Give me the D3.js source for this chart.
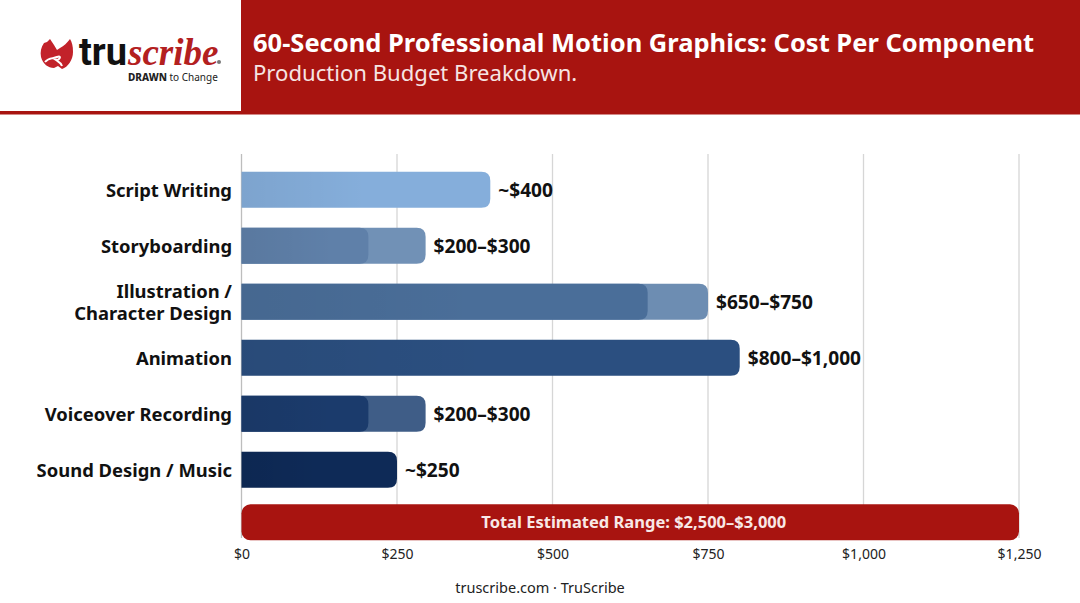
<!DOCTYPE html>
<html>
<head>
<meta charset="utf-8">
<script src="https://cdnjs.cloudflare.com/ajax/libs/d3/7.8.5/d3.min.js"></script>
<style>
  html, body { margin: 0; padding: 0; background: #fff; }
  svg { display: block; font-family: "Noto Sans", sans-serif; }
</style>
</head>
<body>
<svg id="chart" width="1080" height="603"></svg>
<script>
const categories = ["Script Writing", "Storyboarding", "Illustration /|Character Design", "Animation", "Voiceover Recording", "Sound Design / Music"];
const lowValues = [null, 204, 653, null, 204, null];
const highValues = [400, 296, 750, 801, 296, 250];
const valueLabels = ["~$400", "$200–$300", "$650–$750", "$800–$1,000", "$200–$300", "~$250"];
const lowColors = [null, "#5f80a9", "#4a6e99", null, "#1b3b6c", null];
const highColors = ["#85aedb", "#7191b6", "#6d8db2", "#2b4f80", "#3f5d87", "#0e2a57"];
const totalLabel = "Total Estimated Range: $2,500–$3,000";
const totalValue = 1250;
const xTicks = [0, 250, 500, 750, 1000, 1250];

const RED = "#a81410";
const svg = d3.select("#chart");

const x = d3.scaleLinear().domain([0, 1250]).range([241.5, 1019]);
const y = d3.scaleBand()
  .domain(categories)
  .range([161.7, 497.7])
  .paddingInner(0.357)
  .paddingOuter(0.1785);
const totalY = 504.3;

// slight shading on the left of every bar
const shade = svg.append("defs").append("linearGradient").attr("id", "shade");
shade.append("stop").attr("offset", 0).attr("stop-color", "#000").attr("stop-opacity", 0.06);
shade.append("stop").attr("offset", 0.5).attr("stop-color", "#000").attr("stop-opacity", 0);

// square on the left, rounded on the right
function barPath(x0, x1, top, h, r) {
  return `M${x0},${top}H${x1 - r}Q${x1},${top} ${x1},${top + r}V${top + h - r}Q${x1},${top + h} ${x1 - r},${top + h}H${x0}Z`;
}

// header
svg.append("rect").attr("width", 1080).attr("height", 114.5).attr("fill", RED);
svg.append("rect").attr("width", 241).attr("height", 111).attr("fill", "#fff");
svg.append("text").attr("x", 253).attr("y", 52)
  .attr("fill", "#fff").attr("font-size", 25.5).attr("font-weight", 700)
  .text("60-Second Professional Motion Graphics: Cost Per Component");
svg.append("text").attr("x", 253).attr("y", 81)
  .attr("fill", "#f6e4e3").attr("font-size", 22.1)
  .text("Production Budget Breakdown.");

// logo
const logo = svg.append("g");
logo.append("path")
  .attr("fill", "#c2222a")
  .attr("d", "M50,39L47,42L44,43C41,47 40,52 41,57C43,64 48,68 54,68L58,66L62,69C68,67 73,60 73,52C73,46 72,42 70,39C67,43 64,46 60,48L57,50L54,45Z");
logo.append("path")
  .attr("fill", "none").attr("stroke", "#fff").attr("stroke-width", 2)
  .attr("d", "M45,62C49,57 53,59 57,57C62,55 60,60 56,60C59,62 61,63 62,66");
logo.append("text").attr("x", 79).attr("y", 65)
  .attr("font-family", "Roboto, sans-serif")
  .attr("font-size", 38).attr("font-weight", 700).attr("fill", "#111")
  .text("tru");
logo.append("text").attr("x", 128).attr("y", 65)
  .attr("font-family", "'Liberation Serif', serif").attr("font-style", "italic")
  .attr("font-size", 37).attr("font-weight", 700).attr("fill", "#b3201f")
  .text("scribe");
logo.append("circle").attr("cx", 219).attr("cy", 62).attr("r", 2).attr("fill", "#777");
const tagline = logo.append("text").attr("x", 128).attr("y", 81).attr("font-size", 10).attr("fill", "#222");
tagline.append("tspan").attr("font-weight", 800).text("DRAWN");
tagline.append("tspan").text(" to Change");

// grid
svg.append("g").selectAll("line").data(xTicks).join("line")
  .attr("x1", d => x(d)).attr("x2", d => x(d))
  .attr("y1", 154).attr("y2", 538)
  .attr("stroke", d => d === 0 ? "#bdbdbd" : "#d6d6d6")
  .attr("stroke-width", 1.3);

// bars
const rows = categories.map((c, i) => ({ c, i }));
const bars = svg.append("g");
bars.selectAll(".high").data(rows).join("path")
  .attr("class", "high")
  .attr("fill", d => highColors[d.i])
  .attr("d", d => barPath(x(0), x(highValues[d.i]), y(d.c), y.bandwidth(), 9));
bars.selectAll(".low").data(rows.filter(d => lowValues[d.i] !== null)).join("path")
  .attr("class", "low")
  .attr("fill", d => lowColors[d.i])
  .attr("d", d => barPath(x(0), x(lowValues[d.i]), y(d.c), y.bandwidth(), 9));
bars.selectAll(".shade").data(rows).join("path")
  .attr("class", "shade")
  .attr("fill", "url(#shade)")
  .attr("d", d => barPath(x(0), x(highValues[d.i]), y(d.c), y.bandwidth(), 9));

// total bar
svg.append("rect")
  .attr("x", x(0)).attr("width", x(totalValue) - x(0))
  .attr("y", totalY).attr("height", y.bandwidth())
  .attr("rx", 9).attr("fill", RED);
svg.append("text")
  .attr("x", (x(0) + x(totalValue)) / 2 + 3.5).attr("y", totalY + y.bandwidth() / 2)
  .attr("dy", "0.35em").attr("text-anchor", "middle")
  .attr("fill", "#f8e8e6").attr("font-size", 16.5).attr("font-weight", 700)
  .text(totalLabel);

// value labels
svg.append("g").selectAll("text").data(rows).join("text")
  .attr("x", d => x(highValues[d.i]) + 8)
  .attr("y", d => y(d.c) + y.bandwidth() / 2 + 0.5)
  .attr("dy", "0.35em")
  .attr("font-size", 19.1).attr("font-weight", 700).attr("fill", "#111")
  .text(d => valueLabels[d.i]);

// category labels
const catLabels = svg.append("g").selectAll("text").data(rows).join("text")
  .attr("text-anchor", "end")
  .attr("font-size", 18.4).attr("font-weight", 700).attr("fill", "#111")
  .attr("y", d => y(d.c) + y.bandwidth() / 2 + 0.5);
catLabels.each(function (d) {
  const parts = d.c.split("|");
  d3.select(this).selectAll("tspan").data(parts).join("tspan")
    .attr("x", 232)
    .attr("dy", (p, j) => j === 0 ? `${0.35 - (parts.length - 1) * 0.6}em` : "1.22em")
    .text(p => p);
});

// axis
const axis = svg.append("g")
  .attr("transform", "translate(0,546)")
  .call(d3.axisBottom(x).tickValues(xTicks).tickSize(0).tickPadding(3).tickFormat(d => "$" + d3.format(",")(d)));
axis.select(".domain").remove();
axis.selectAll("text")
  .attr("font-family", "'Noto Sans', sans-serif").attr("font-size", 14).attr("fill", "#222");

// footer
svg.append("text").attr("x", 540).attr("y", 593)
  .attr("text-anchor", "middle").attr("font-size", 14.5).attr("fill", "#222")
  .text("truscribe.com · TruScribe");
</script>
</body>
</html>
